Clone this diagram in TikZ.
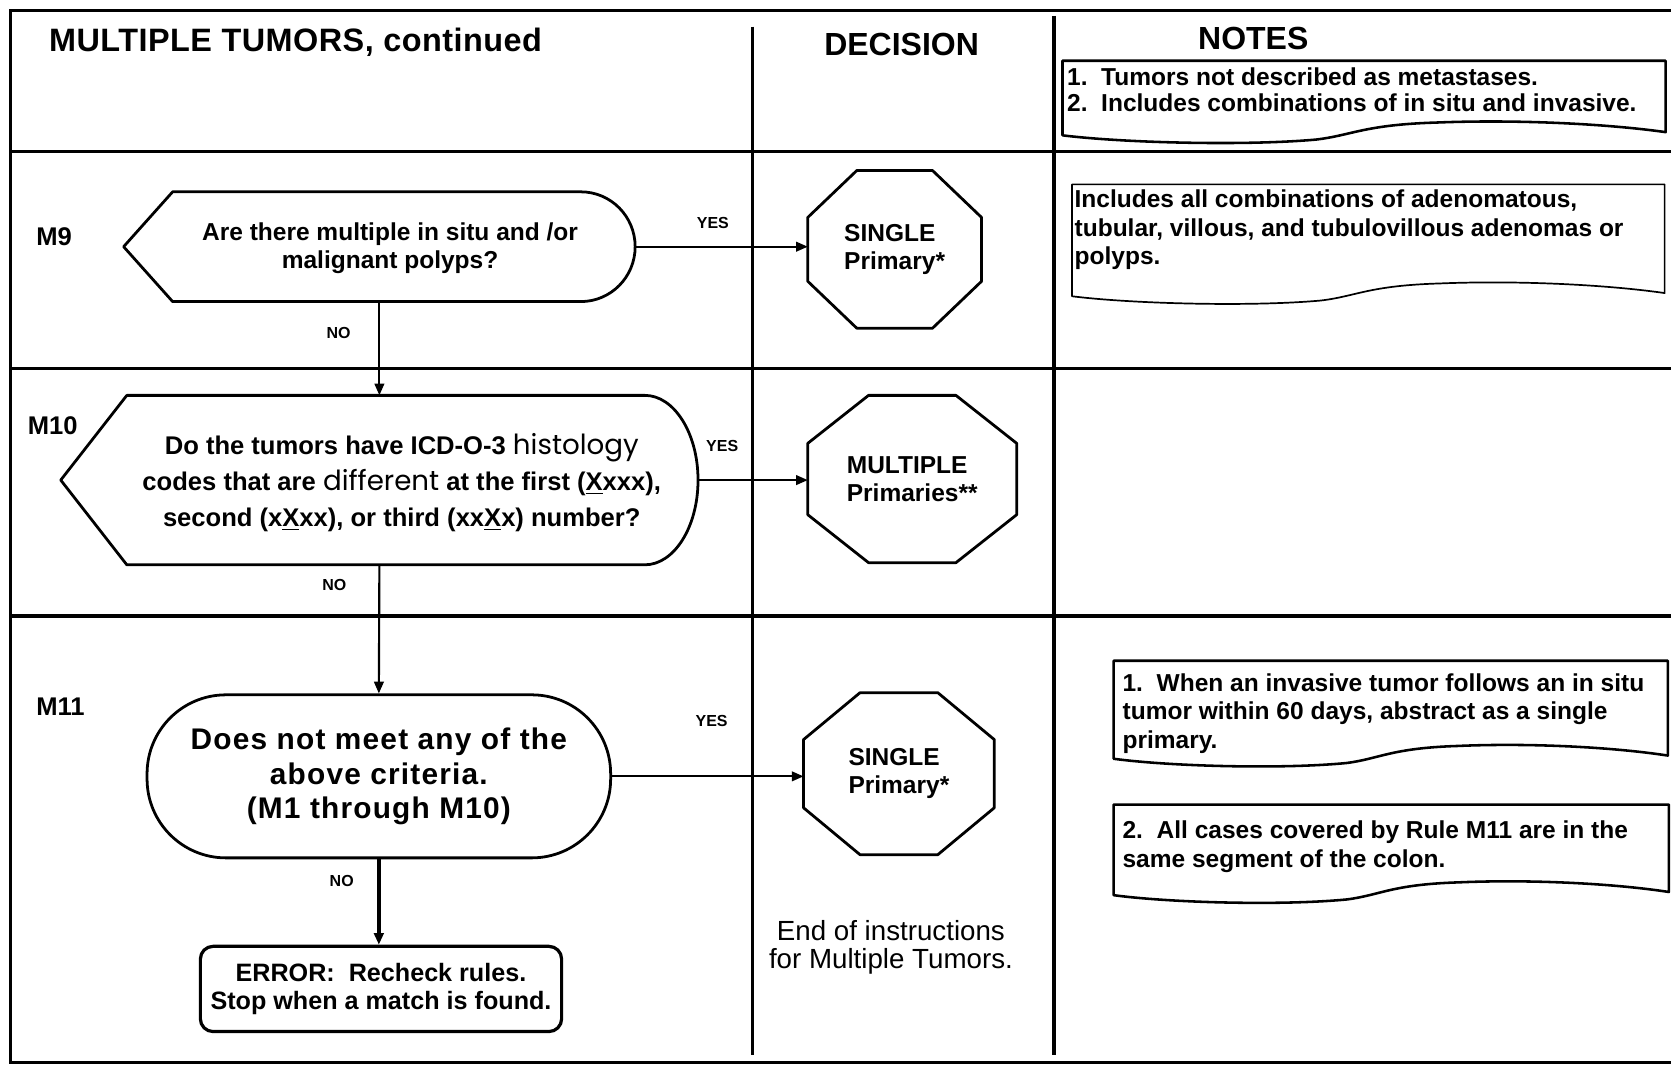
\documentclass[tikz,border=0pt]{standalone}
\usepackage{fontspec}
\setmainfont{Liberation Sans}
\newfontfamily\geofont{Poppins}
\usepackage{tikz}
\usetikzlibrary{arrows.meta, positioning}

\tikzset{
    grid/.style={line width=1.5pt},
    header/.style={font=\bfseries\fontsize{15}{18}\selectfont},
    rulelabel/.style={anchor=west, font=\bfseries\fontsize{12}{14}\selectfont},
    holder/.style={rectangle, inner sep=0pt, outer sep=0pt},
    outline/.style={line width=1.3pt, line join=round},
    qtext/.style={align=center, inner sep=0pt, font=\bfseries\fontsize{11.5}{13}\selectfont},
    stadium/.style={rectangle, draw, line width=1.3pt, rounded corners=37pt, align=center, font=\bfseries\fontsize{14}{16}\selectfont\addfontfeature{LetterSpace=4}},
    octo/.style={rectangle, inner sep=0pt, outer sep=0pt, align=left, font=\bfseries\fontsize{11.5}{13}\selectfont},
    errbox/.style={rectangle, draw, rounded corners=6pt, line width=1.5pt, align=center, font=\bfseries\fontsize{11.8}{13}\selectfont},
    notetext/.style={anchor=north west, inner sep=0pt, align=left, font=\bfseries\fontsize{11.5}{13.25}\selectfont},
    tornline/.style={line width=1.2pt, line join=round},
    answer/.style={font=\bfseries\fontsize{7.5}{9}\selectfont, inner sep=1pt},
    flow/.style={-{Triangle[length=5.5pt, width=4.5pt]}, line width=1pt}
}

% notes frame with a torn bottom edge: [opts]{x0}{top}{x1}{bottom}
\newcommand{\tornframe}[5][]{%
  \pgfmathsetmacro{\tornw}{#4-#2}
  \draw[tornline,#1] (#2,#5) -- (#2,#3) -- (#4,#3) -- (#4,#5-3)
    .. controls ({#2+0.9*\tornw},#5-11) and ({#2+0.75*\tornw},#5-15) .. ({#2+0.62*\tornw},#5-12)
    .. controls ({#2+0.5*\tornw},#5-10) and ({#2+0.48*\tornw},#5) .. ({#2+0.42*\tornw},#5+4)
    .. controls ({#2+0.3*\tornw},#5+10) and ({#2+0.1*\tornw},#5+7) .. (#2,#5) -- cycle;
}
% octagon round a node: {node}{corner cut x}{corner cut y}
\newcommand{\octoframe}[3]{%
  \draw[outline] ([xshift=#2]#1.north west) -- ([xshift=-#2]#1.north east)
    -- ([yshift=-#3]#1.north east) -- ([yshift=#3]#1.south east)
    -- ([xshift=-#2]#1.south east) -- ([xshift=#2]#1.south west)
    -- ([yshift=#3]#1.south west) -- ([yshift=-#3]#1.north west) -- cycle;
}

\begin{document}
\begin{tikzpicture}[x=0.5pt, y=-0.5pt]
    \fill[white] (0,0) rectangle (1568,999);
    \useasboundingbox (0,0) rectangle (1568,999);

    % Frame and rows
    \draw[grid] (1590,10) -- (10,10) -- (10,997) -- (1590,997);
    \draw[grid] (10,142) -- (1590,142);
    \draw[grid] (10,346) -- (1590,346);
    \draw[grid] (10,578) -- (1590,578);
    \draw[grid] (706,25) -- (706,990);
    \draw[grid] (989,15) -- (989,990);

    % Headers
    \node[header, anchor=west, font=\bfseries\fontsize{15.2}{18}\selectfont\addfontfeature{LetterSpace=1.5}] (hdtumors) at (39,40) {MULTIPLE TUMORS, continued};
    \node[header] (hddecision) at (846,42) {DECISION};
    \node[header] (hdnotes) at (1176,36) {NOTES};

    % Rule labels
    \node[rulelabel] (lblm9) at (27,222) {M9};
    \node[rulelabel] (lblm10) at (19,399) {M10};
    \node[rulelabel] (lblm11) at (27,663) {M11};

    % M9
    \node[holder, minimum width=240pt, minimum height=51.5pt] (m9) at (356,231.5) {};
    \draw[outline] (m9.west) -- ([xshift=23pt]m9.north west) -- ([xshift=-25.5pt]m9.north east)
        arc[start angle=90, end angle=-90, x radius=25.5pt, y radius=25.75pt]
        -- ([xshift=23pt]m9.south west) -- cycle;
    \node[qtext] (m9text) at (366,233) {Are there multiple in situ and /or\\ malignant polyps?};

    % M10
    \node[holder, minimum width=299pt, minimum height=79.5pt] (m10) at (356,450.5) {};
    \draw[outline] (m10.west) -- ([xshift=31pt]m10.north west) -- ([xshift=-25pt]m10.north east)
        arc[start angle=90, end angle=-90, x radius=25pt, y radius=39.75pt]
        -- ([xshift=31pt]m10.south west) -- cycle;
    \node[qtext, font=\bfseries\fontsize{12}{16.75}\selectfont] (m10text) at (377,453) {%
        Do the tumors have ICD-O-3 {\geofont\mdseries\fontsize{13}{16.75}\selectfont histology}\\
        codes that are {\geofont\mdseries\fontsize{13}{16.75}\selectfont different} at the first (\underline{X}xxx),\\
        second (x\underline{X}xx), or third (xx\underline{X}x) number?};

    % M11
    \node[stadium, minimum width=217.5pt, minimum height=76.5pt] (m11) at (355.5,728.5) {Does not meet any of the\\ above criteria.\\ (M1 through M10)};
    \node[errbox, minimum width=169.5pt, minimum height=40pt] (err) at (357.5,928) {ERROR:\ \ Recheck rules.\\ Stop when a match is found.};

    % Decisions
    \node[octo, minimum width=81.5pt, minimum height=74pt] (oct1) at (839.5,234) {SINGLE\\ Primary*};
    \octoframe{oct1}{23pt}{22pt}
    \node[octo, minimum width=98pt, minimum height=78.5pt] (oct2) at (856,449.5) {MULTIPLE\\ Primaries**};
    \octoframe{oct2}{28.5pt}{22.5pt}
    \node[octo, minimum width=89.5pt, minimum height=76pt] (oct3) at (843.5,726) {SINGLE\\ Primary*};
    \octoframe{oct3}{26.5pt}{22pt}
    \node[align=center, font=\fontsize{13}{13.5}\selectfont] (endtext) at (836,889) {End of instructions\\ for Multiple Tumors.};

    % Connections
    \draw[flow] (m9.east) -- (m9.east -| oct1.west) node[answer, pos=0.45, above=7pt] {YES};
    \draw[flow] (m10.east) -- (m10.east -| oct2.west) node[answer, pos=0.22, above=12pt] {YES};
    \draw[flow] (m11.east) -- (m11.east -| oct3.west) node[answer, pos=0.52, above=22pt] {YES};
    \draw[flow] (m9.south) -- (m10.north) node[answer, pos=0.33, left=12pt] {NO};
    \draw[flow] (m10.south) -- (m11.north) node[answer, pos=0.16, left=14pt] {NO};
    \draw[flow, line width=1.6pt] (m11.south) -- (m11.south |- err.north) node[answer, pos=0.25, left=10pt] {NO};

    % Notes
    \tornframe{997}{57}{1563}{127}
    \node[notetext, font=\bfseries\fontsize{11.5}{12.5}\selectfont] (note1) at (1001,63) {1.\ \ Tumors not described as metastases.\\ 2.\ \ Includes combinations of in situ and invasive.};
    \tornframe[line width=0.8pt]{1006}{173}{1562}{278}
    \node[notetext] (note2) at (1008,178) {Includes all combinations of adenomatous,\\ tubular, villous, and tubulovillous adenomas or\\ polyps.};
    \tornframe{1045}{620}{1565}{712}
    \node[notetext] (note3) at (1053,632) {1.\ \ When an invasive tumor follows an in situ\\ tumor within 60 days, abstract as a single\\ primary.};
    \tornframe{1045}{755}{1566}{840}
    \node[notetext] (note4) at (1053,770) {2.\ \ All cases covered by Rule M11 are in the\\ same segment of the colon.};
\end{tikzpicture}
\end{document}
